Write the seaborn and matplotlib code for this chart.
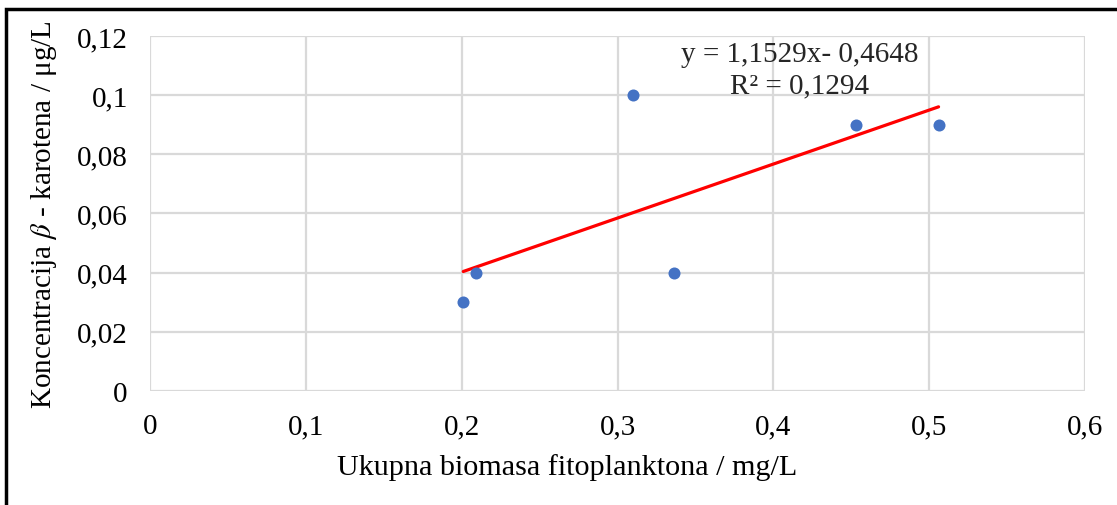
import matplotlib
matplotlib.use("Agg")
import matplotlib.pyplot as plt
import seaborn as sns
import pandas as pd
from matplotlib.patches import Rectangle

# data
biomasa = [0.201, 0.209, 0.310, 0.336, 0.453, 0.506]
beta_karoten = [0.03, 0.04, 0.10, 0.04, 0.09, 0.09]
x_ticks = [0, 0.1, 0.2, 0.3, 0.4, 0.5, 0.6]
x_tick_labels = ["0", "0,1", "0,2", "0,3", "0,4", "0,5", "0,6"]
y_ticks = [0, 0.02, 0.04, 0.06, 0.08, 0.10, 0.12]
y_tick_labels = ["0", "0,02", "0,04", "0,06", "0,08", "0,1", "0,12"]
equation = "y = 1,1529x- 0,4648"
r_squared = "R² = 0,1294"

df = pd.DataFrame({"biomasa": biomasa, "beta": beta_karoten})

sns.set_theme(style="white")
plt.rcParams["font.family"] = ["Liberation Serif", "DejaVu Serif"]
plt.rcParams["mathtext.fontset"] = "stix"

fig = plt.figure(figsize=(11.17, 5.06), dpi=100)
ax = fig.add_axes([0.1343, 0.2253, 0.9714 - 0.1343, 0.9269 - 0.2253])

sns.regplot(data=df, x="biomasa", y="beta", ax=ax, ci=None, truncate=True,
            scatter_kws={"color": "#4472C4", "s": 75, "alpha": 1, "linewidths": 0, "zorder": 3},
            line_kws={"color": "#FF0000", "linewidth": 2.3, "zorder": 2})

ax.set_xlim(0, 0.6)
ax.set_ylim(0, 0.12)
ax.set_xticks(x_ticks)
ax.set_xticklabels(x_tick_labels)
ax.set_yticks(y_ticks)
ax.set_yticklabels(y_tick_labels)
ax.tick_params(axis="y", labelsize=21, length=0, pad=16, colors="black")
ax.tick_params(axis="x", labelsize=21, length=0, pad=16, colors="black")
ax.grid(True, color="#D9D9D9", linewidth=1.6)
ax.set_axisbelow(True)
for s in ax.spines.values():
    s.set_visible(False)

ax.set_xlabel("Ukupna biomasa fitoplanktona / mg/L", fontsize=21.7, labelpad=10, color="black")
ax.xaxis.label.set_x(0.446)
ax.set_ylabel(r"Koncentracija $\beta$ - karotena / μg/L", fontsize=21, labelpad=13, color="black")

ax.text(0.695, 0.949, equation, transform=ax.transAxes, fontsize=21, ha="center", va="center")
ax.text(0.695, 0.862, r_squared, transform=ax.transAxes, fontsize=21, ha="center", va="center")

# outer chart frame
fig.patches.append(Rectangle((6 / 1117, -0.1), 1.2, 1 - 10 / 506 + 0.1, transform=fig.transFigure,
                             fill=False, edgecolor="black", linewidth=2.5))

fig.savefig("out.png", dpi=100)
